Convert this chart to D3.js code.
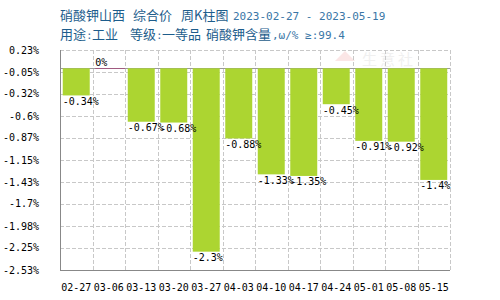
<!DOCTYPE html>
<html><head><meta charset="utf-8">
<script src="https://cdn.jsdelivr.net/npm/d3@7"></script>
<style>body{margin:0;background:#fff}svg{display:block}</style>
</head><body>
<svg id="c" width="500" height="300"></svg>
<script>
const categories = ["02-27","03-06","03-13","03-20","03-27","04-03","04-10","04-17","04-24","05-01","05-08","05-15"];
const values = [-0.34, 0, -0.67, -0.68, -2.3, -0.88, -1.33, -1.35, -0.45, -0.91, -0.92, -1.4];
const yTicks = [0.23, -0.05, -0.32, -0.6, -0.87, -1.15, -1.43, -1.7, -1.98, -2.25, -2.53];
const titleLine1 = [["硝酸钾山西",60,"cjk"],["综合价",133,"cjk"],["周K柱图",181,"cjk"],["2023-02-27 - 2023-05-19",233,"mono"]];
const titleLine2 = [["用途",60,"cjk"],[":",86,"mono"],["工业",92,"cjk"],["等级",130,"cjk"],[":",156,"mono"],["一等品",162,"cjk"],["硝酸钾含量",206,"cjk"],[",ω/% ≥:99.4",272,"mono"]];

const svg = d3.select("#c");
const L=60, R=450, T=50, B=270;
const x = d3.scaleBand().domain(categories).range([L,R]).paddingInner(0.17).paddingOuter(0.085);
const xb = d3.scaleBand().domain(categories).range([L,R]);
const y = d3.scaleLinear().domain([-2.53,0.23]).range([B,T]);
const mono = "'DejaVu Sans Mono', monospace";
const cjk = "'Noto Sans CJK SC', sans-serif";

// watermark
const wm = svg.append("g");
wm.append("path").attr("d","M335,61 L345,51 L355,61 Z").attr("fill","#fbe6e6");
wm.append("text").attr("x",362).attr("y",65).text("生意社").attr("font-family",cjk).attr("font-size",15).attr("fill","#f0f0f0").attr("letter-spacing",3);

// gridlines
const grid = svg.append("g").attr("stroke","#c8c8c8").attr("stroke-dasharray","4,2").attr("stroke-width",1);
yTicks.slice(0,-1).forEach(t=>{
  grid.append("line").attr("x1",L).attr("x2",R).attr("y1",Math.round(y(t))+0.5).attr("y2",Math.round(y(t))+0.5);
});
categories.forEach(c=>{
  const xx = Math.round(xb(c)+xb.bandwidth())+0.5;
  grid.append("line").attr("x1",xx).attr("x2",xx).attr("y1",T).attr("y2",B);
});

// zero baseline
svg.append("line").attr("x1",L).attr("x2",R).attr("y1",Math.round(y(0))+0.5).attr("y2",Math.round(y(0))+0.5).attr("stroke","#999").attr("stroke-width",1);

// bars
svg.append("g").selectAll("rect").data(values.map((v,i)=>({c:categories[i],v}))).join("rect")
  .filter(d=>d.v!==0)
  .attr("x",d=>x(d.c)).attr("width",x.bandwidth())
  .attr("y",y(0)).attr("height",d=>y(d.v)-y(0))
  .attr("fill","#acd531");

// zero-value markers
values.forEach((v,i)=>{
  if(v===0){
    svg.append("line").attr("x1",x(categories[i])).attr("x2",xb(categories[i])+xb.bandwidth())
      .attr("y1",Math.round(y(0))+0.5).attr("y2",Math.round(y(0))+0.5).attr("stroke","#a05a80").attr("stroke-width",1);
  }
});

// value labels
svg.append("g").selectAll("text").data(values.map((v,i)=>({c:categories[i],v}))).join("text")
  .attr("x",d=>x(d.c)).attr("y",d=>d.v===0? y(0)-2 : y(d.v)+9.5)
  .text(d=>d.v+"%").attr("font-family",mono).attr("font-size",10).attr("fill","#000");

// axes
svg.append("line").attr("x1",L+0.5).attr("x2",L+0.5).attr("y1",T).attr("y2",B).attr("stroke","#888");
svg.append("line").attr("x1",L).attr("x2",R).attr("y1",B+0.5).attr("y2",B+0.5).attr("stroke","#888");

// y tick labels
svg.append("g").selectAll("text").data(yTicks).join("text")
  .attr("x",39).attr("y",d=>y(d)+3.5).attr("text-anchor","end")
  .text(d=>d+"%").attr("font-family",mono).attr("font-size",10).attr("fill","#000");

// x tick labels
svg.append("g").selectAll("text").data(categories).join("text")
  .attr("x",d=>xb(d)+xb.bandwidth()/2).attr("y",290.5).attr("text-anchor","middle")
  .text(d=>d).attr("font-family",mono).attr("font-size",10).attr("fill","#000");

// title
function line(parts,yy){
  parts.forEach(([t,xx,f])=>{
    svg.append("text").attr("x",xx).attr("y",yy).text(t)
      .attr("font-family",f==="mono"?mono:cjk).attr("font-size",f==="mono"?11:13)
      .attr("fill",f==="mono"?"#3a76a6":"#1d5d8c");
  });
}
line(titleLine1,19.5);
line(titleLine2,38.5);
</script>
</body></html>
